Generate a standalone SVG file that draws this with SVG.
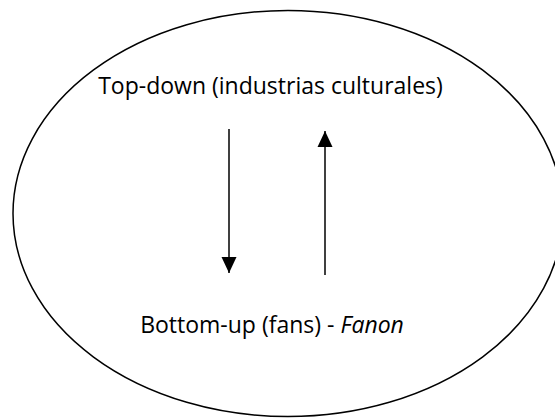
<svg xmlns="http://www.w3.org/2000/svg" width="555" height="418" viewBox="0 0 555 418">
<style>
  .lbl { font-family: "Open Sans", "Liberation Sans", sans-serif; font-size: 23px; fill: #000; }
  .conn { stroke: #000; stroke-width: 1.5; fill: none; }
</style>
<defs>
  <marker id="ahb" viewBox="0 0 16 16" refX="16" refY="8" markerWidth="16" markerHeight="16" markerUnits="userSpaceOnUse" orient="auto">
    <path d="M0,0.5 L16,8 L0,15.5 Z" fill="#000"/>
  </marker>
</defs>
<rect width="555" height="418" fill="#fff"/>
<g id="ellipse">
  <ellipse cx="288" cy="213.5" rx="275" ry="203" fill="none" stroke="#000" stroke-width="1.5"/>
</g>
<g id="top">
  <text class="lbl" x="270.5" y="93.5" text-anchor="middle">Top-down (industrias culturales)</text>
</g>
<g id="bottom">
  <text class="lbl" x="272" y="333" text-anchor="middle">Bottom-up (fans) - <tspan font-style="italic">Fanon</tspan></text>
</g>
<g id="connectors">
  <line class="conn" x1="229" y1="129" x2="229" y2="273" marker-end="url(#ahb)"/>
  <line class="conn" x1="325" y1="275" x2="325" y2="131" marker-end="url(#ahb)"/>
</g>
</svg>
